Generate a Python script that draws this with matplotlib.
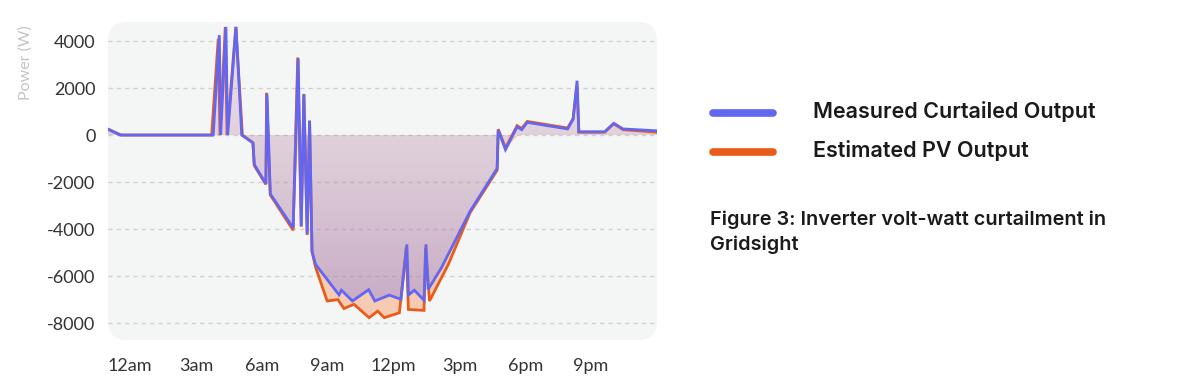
import numpy as np
import matplotlib
matplotlib.use("Agg")
import matplotlib.pyplot as plt
from matplotlib.patches import FancyBboxPatch, PathPatch
from matplotlib.lines import Line2D
from matplotlib.colors import LinearSegmentedColormap

# ---- data (hours of day, watts) ----
measured_t = [-1.0, -0.45, 3.79, 4.07, 4.13, 4.37, 4.45, 4.83, 5.09, 5.60, 5.66, 6.19, 6.24, 6.39,
              7.43, 7.66, 7.80, 7.92, 8.07, 8.18, 8.29, 8.45, 9.52, 9.63, 10.13, 10.87, 11.15,
              11.81, 12.34, 12.61, 12.68, 12.95, 13.39, 13.48, 13.58, 14.18, 15.49, 16.72, 16.77,
              17.10, 17.63, 17.84, 18.09, 19.93, 20.18, 20.36, 20.44, 21.62, 22.03, 22.45, 24.0]
measured_w = [250, 0, 0, 4250, 0, 4600, 0, 4600, 0, -330, -1250, -2070, 1760, -2500,
              -3950, 3260, -3870, 1730, -4200, 600, -4950, -5500, -6800, -6600, -7060, -6580, -7060,
              -6810, -6990, -4650, -6810, -6600, -7030, -4650, -6570, -5650, -3240, -1420, 210,
              -620, 350, 230, 540, 260, 680, 2310, 140, 140, 500, 260, 180]

estimated_t = [-1.0, -0.40, 3.72, 4.02, 4.10, 4.34, 4.42, 4.82, 5.12, 5.60, 5.66, 6.19, 6.22, 6.39,
               7.43, 7.64, 7.80, 7.92, 8.07, 8.18, 8.29, 8.45, 8.98, 9.47, 9.74, 10.20, 10.89,
               11.28, 11.58, 12.27, 12.58, 12.68, 13.39, 13.46, 13.64, 14.50, 15.49, 16.72, 16.77,
               17.10, 17.63, 17.84, 18.09, 19.93, 20.18, 20.36, 20.44, 21.62, 22.03, 22.45, 24.0]
estimated_w = [250, 0, 0, 4100, 0, 4600, 0, 4600, 0, -330, -1300, -2100, 1800, -2550,
               -4050, 3300, -3900, 1750, -4250, 620, -4950, -5620, -7060, -7000, -7380, -7200, -7770,
               -7490, -7770, -7560, -4800, -7420, -7460, -4800, -7060, -5500, -3300, -1500, 250,
               -550, 400, 280, 580, 300, 700, 2100, 120, 120, 480, 230, 120]

x_ticks = [0, 3, 6, 9, 12, 15, 18, 21]
x_labels = ["12am", "3am", "6am", "9am", "12pm", "3pm", "6pm", "9pm"]
y_ticks = [-8000, -6000, -4000, -2000, 0, 2000, 4000]
y_labels = ["-8000", "-6000", "-4000", "-2000", "0", "2000", "4000"]

series_names = ["Measured Curtailed Output", "Estimated PV Output"]
caption = "Figure 3: Inverter volt-watt curtailment in\nGridsight"

BLUE = "#6366f1"
ORANGE = "#ea5b1a"
PEACH = "#f6cbb3"
BG = "#f4f6f5"

plt.rcParams['font.family'] = ['Lato', 'DejaVu Sans']

fig = plt.figure(figsize=(12, 3.88), dpi=100)
fig.patch.set_facecolor("white")
W, H = 1200, 388
ax = fig.add_axes([108 / W, (H - 340) / H, 549 / W, 318 / H])
ax.patch.set_visible(False)
ax.set_xlim(-1.0, 24.0)
ax.set_ylim(-8720, 4810)

bg = FancyBboxPatch((0, 0), 1, 1, boxstyle="round,pad=0,rounding_size=0.035",
                    transform=ax.transAxes, facecolor=BG, edgecolor="none",
                    zorder=0, clip_on=False, mutation_aspect=549 / 318)
ax.add_patch(bg)

# peach fill: estimated below zero
et = np.array(estimated_t)
ew = np.array(estimated_w)
ax.fill_between(et, np.minimum(ew, 0), 0, color=PEACH, linewidth=0, zorder=1)

# purple gradient fill: measured to zero
mt = np.array(measured_t)
mw = np.array(measured_w)
poly = ax.fill_between(mt, mw, 0, color="none", linewidth=0, zorder=1.5)
path = poly.get_paths()[0]
clip = PathPatch(path, transform=ax.transData, facecolor="none", edgecolor="none")
ax.add_patch(clip)
cmap = LinearSegmentedColormap.from_list("pg", ["#c6a8c3", "#dccbd7", "#ece2e8"])
grad = np.linspace(0, 1, 256).reshape(-1, 1)
im = ax.imshow(grad, extent=[-1.0, 24.0, -8000, 4810], origin="lower", aspect="auto",
               cmap=cmap, zorder=2, interpolation="bilinear")
im.set_clip_path(clip)

# gridlines
for yv in y_ticks:
    ax.axhline(yv, color=(0.55, 0.55, 0.55, 0.35), linestyle=(0, (3, 3)), linewidth=1.0, zorder=2.5)

ax.plot(et, ew, color=ORANGE, linewidth=2.0, zorder=3, solid_joinstyle="miter")
ax.plot(mt, mw, color=BLUE, linewidth=2.0, zorder=4, solid_joinstyle="miter")

ax.set_xticks(x_ticks)
ax.set_xticklabels(x_labels)
ax.set_yticks(y_ticks)
ax.set_yticklabels(y_labels)
ax.tick_params(axis="both", length=0, labelsize=13, labelcolor="#333333")
ax.tick_params(axis="x", pad=13)
ax.tick_params(axis="y", pad=9)
for s in ax.spines.values():
    s.set_visible(False)

fig.text(26 / W, 1 - 63 / H, "Power (W)", rotation=90, ha="center", va="center",
         fontsize=11.5, color="#c4c4c4")

# legend
for i, (name, col) in enumerate(zip(series_names, [BLUE, ORANGE])):
    yy = 1 - (113 + 39 * i) / H
    fig.add_artist(Line2D([713 / W, 773 / W], [yy, yy], color=col, linewidth=5.5,
                          solid_capstyle="round"))
    fig.text(813 / W, 1 - (112 + 39 * i) / H, name, ha="left", va="center",
             fontsize=15.5, color="#1a1a1a", fontweight="semibold",
             family=["Inter", "DejaVu Sans"])

fig.text(710 / W, 1 - 211 / H, caption, ha="left", va="top", fontsize=14.3,
         color="#1a1a1a", fontweight="semibold", linespacing=1.4,
         family=["Inter", "DejaVu Sans"])

fig.savefig("out.png", dpi=100, facecolor="white")
